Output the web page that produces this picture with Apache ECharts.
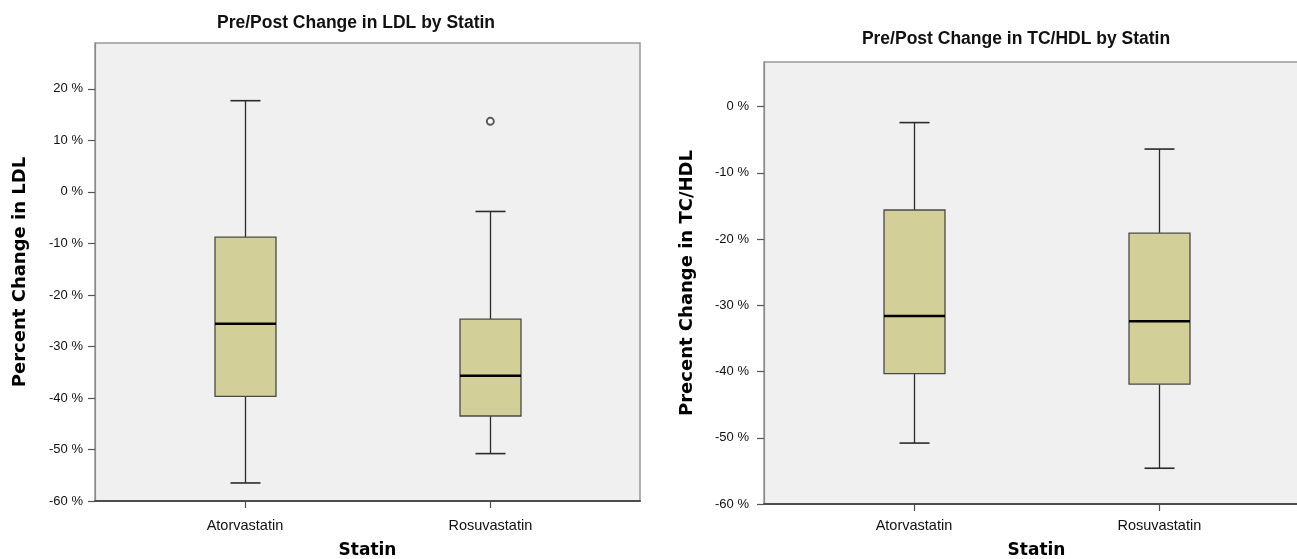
<!DOCTYPE html>
<html>
<head>
<meta charset="utf-8">
<script src="https://cdn.jsdelivr.net/npm/echarts@6/dist/echarts.min.js"></script>
<style>
html,body{margin:0;padding:0;background:#fff;}
#chart{width:1297px;height:559px;}
</style>
</head>
<body>
<div id="chart"></div>
<script>
// ---- data ----
const categories = ['Atorvastatin', 'Rosuvastatin'];
// [min, Q1, median, Q3, max] in percent
const ldlBoxes = [
  [-56.5, -39.7, -25.6, -8.8, 17.7],
  [-50.8, -43.5, -35.7, -24.7, -3.8]
];
const ldlOutliers = [[2, 13.7]]; // [category position, value]
const tchdlBoxes = [
  [-50.8, -40.3, -31.6, -15.6, -2.4],
  [-54.6, -41.9, -32.4, -19.1, -6.4]
];
const ldlTicks = [-60, -50, -40, -30, -20, -10, 0, 10, 20];
const tchdlTicks = [-60, -50, -40, -30, -20, -10, 0];
const titles = ['Pre/Post Change in LDL by Statin', 'Pre/Post Change in TC/HDL by Statin'];
const yNames = ['Percent Change in LDL', 'Precent Change in TC/HDL'];
const xName = 'Statin';

// ---- styles ----
const BOX_W = 61, CAP_W = 30;
const BOX_FILL = '#d3cf98';
const catPositions = categories.map((c, i) => i + 1);

function boxData(boxes) {
  return boxes.map((b, i) => [catPositions[i]].concat(b));
}

function renderBox(params, api) {
  const x = api.value(0);
  const pMin = api.coord([x, api.value(1)]);
  const pQ1 = api.coord([x, api.value(2)]);
  const pMed = api.coord([x, api.value(3)]);
  const pQ3 = api.coord([x, api.value(4)]);
  const pMax = api.coord([x, api.value(5)]);
  const cx = Math.round(pMed[0]) + 0.5;
  const ws = { stroke: '#2a2a2a', lineWidth: 1.3 };
  return {
    type: 'group',
    children: [
      { type: 'line', shape: { x1: cx, y1: pMax[1], x2: cx, y2: pQ3[1] }, style: ws },
      { type: 'line', shape: { x1: cx, y1: pQ1[1], x2: cx, y2: pMin[1] }, style: ws },
      { type: 'line', shape: { x1: cx - CAP_W / 2, y1: pMax[1], x2: cx + CAP_W / 2, y2: pMax[1] }, style: { stroke: '#2a2a2a', lineWidth: 1.6 } },
      { type: 'line', shape: { x1: cx - CAP_W / 2, y1: pMin[1], x2: cx + CAP_W / 2, y2: pMin[1] }, style: { stroke: '#2a2a2a', lineWidth: 1.6 } },
      { type: 'rect', shape: { x: cx - BOX_W / 2, y: pQ3[1], width: BOX_W, height: pQ1[1] - pQ3[1] },
        style: { fill: BOX_FILL, stroke: '#4a4a45', lineWidth: 1.3 } },
      { type: 'line', shape: { x1: cx - BOX_W / 2, y1: pMed[1], x2: cx + BOX_W / 2, y2: pMed[1] },
        style: { stroke: '#000', lineWidth: 2.6 } }
    ]
  };
}

const fontMain = 'Liberation Sans, Arial, sans-serif';
const fontBold = 'DejaVu Sans, sans-serif';

function xAxisFor(gridIndex, labelMargin, nameGap) {
  return {
    type: 'value', gridIndex: gridIndex, min: 0.389, max: 2.61,
    name: xName, nameLocation: 'middle', nameGap: nameGap,
    nameTextStyle: { fontFamily: fontBold, fontWeight: 'bold', fontSize: 17, color: '#000' },
    splitLine: { show: false },
    axisLine: { show: true, onZero: false, lineStyle: { color: '#4d4d4d', width: 2 } },
    axisTick: { show: true, customValues: catPositions, length: 7, lineStyle: { color: '#4d4d4d', width: 1.2 } },
    axisLabel: { customValues: catPositions, margin: labelMargin, fontFamily: fontMain, fontSize: 14.5, color: '#111',
      formatter: v => categories[Math.round(v) - 1] }
  };
}

function yAxisFor(gridIndex, max, ticks, name, nameGap, labelMargin) {
  return {
    type: 'value', gridIndex: gridIndex, min: -60, max: max,
    name: name, nameLocation: 'middle', nameGap: nameGap,
    nameTextStyle: { fontFamily: fontBold, fontWeight: 'bold', fontSize: 18, color: '#000' },
    splitLine: { show: false },
    axisLine: { show: true, onZero: false, lineStyle: { color: '#8a8a8a', width: 1.2 } },
    axisTick: { show: true, customValues: ticks, length: 7, lineStyle: { color: '#555', width: 1.2 } },
    axisLabel: { customValues: ticks, margin: labelMargin, fontFamily: fontMain, fontSize: 13, color: '#111',
      formatter: v => v + ' %' }
  };
}

const chart = echarts.init(document.getElementById('chart'), null, { renderer: 'canvas' });
chart.setOption({
  animation: false,
  backgroundColor: '#fff',
  graphic: [
    { type: 'text', x: 356, y: 23, style: { text: titles[0], font: 'bold 17.5px ' + fontMain, fill: '#111', align: 'center', verticalAlign: 'middle' } },
    { type: 'text', x: 1016, y: 39, style: { text: titles[1], font: 'bold 17.5px ' + fontMain, fill: '#111', align: 'center', verticalAlign: 'middle' } }
  ],
  grid: [
    { left: 95, top: 43, width: 545, height: 458, outerBoundsMode: 'none', containLabel: false,
      show: true, backgroundColor: '#f0f0f0', borderColor: '#999', borderWidth: 1.5 },
    { left: 764, top: 62, width: 545, height: 442, outerBoundsMode: 'none', containLabel: false,
      show: true, backgroundColor: '#f0f0f0', borderColor: '#999', borderWidth: 1.5 }
  ],
  xAxis: [xAxisFor(0, 17, 41), xAxisFor(1, 14, 38)],
  yAxis: [
    yAxisFor(0, 28.9, ldlTicks, yNames[0], 66, 12),
    yAxisFor(1, 6.75, tchdlTicks, yNames[1], 68, 15)
  ],
  series: [
    { type: 'custom', xAxisIndex: 0, yAxisIndex: 0, renderItem: renderBox, data: boxData(ldlBoxes),
      encode: { x: 0, y: [1, 2, 3, 4, 5] } },
    { type: 'scatter', xAxisIndex: 0, yAxisIndex: 0, data: ldlOutliers, symbol: 'emptyCircle', symbolSize: 7,
      itemStyle: { color: '#333', borderWidth: 1.5 } },
    { type: 'custom', xAxisIndex: 1, yAxisIndex: 1, renderItem: renderBox, data: boxData(tchdlBoxes),
      encode: { x: 0, y: [1, 2, 3, 4, 5] } }
  ]
});
</script>
</body>
</html>
